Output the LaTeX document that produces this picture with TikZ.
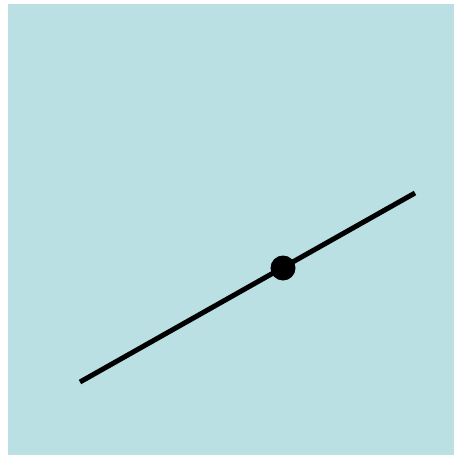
\documentclass[tikz,border=0pt]{standalone}
\begin{document}
\begin{tikzpicture}[x=1pt,y=-1pt]
\definecolor{bg}{RGB}{186,224,227}
\useasboundingbox (0,0) rectangle (454,455);
\fill[white] (0,0) rectangle (454,455);
\fill[bg] (8,4) rectangle (454,455);
\coordinate (a) at (80,382);
\coordinate (b) at (415,193);
\node[circle,fill=black,inner sep=0pt,minimum size=25pt] (p) at (283,268) {};
\draw[line width=5pt] (a) -- (b);
\end{tikzpicture}
\end{document}
